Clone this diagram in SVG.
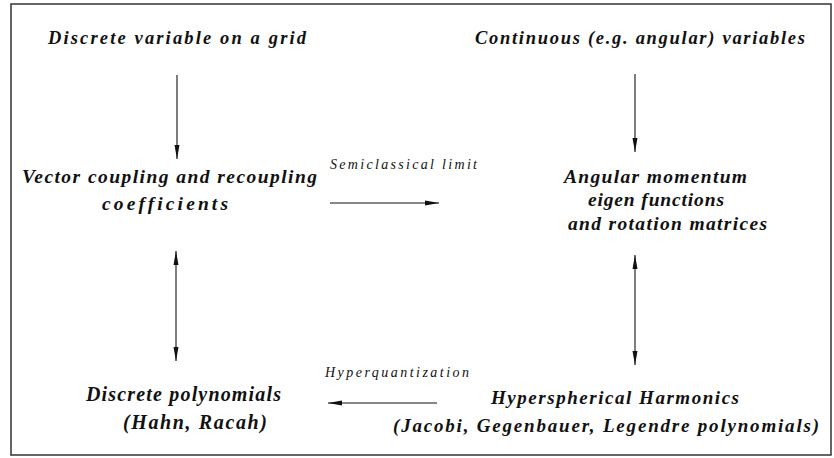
<svg xmlns="http://www.w3.org/2000/svg" width="834" height="458" viewBox="0 0 834 458">
<style>
.node{font-family:'Liberation Serif','Times New Roman','DejaVu Serif',serif;font-style:italic;font-weight:700;fill:#111}
.s17{font-size:18.5px}.s18{font-size:19px}.s19{font-size:19.5px}.s20{font-size:20px}
.lab{font-family:'Liberation Serif','Times New Roman','DejaVu Serif',serif;font-size:14px;font-style:italic;fill:#111}
.ln{stroke:#111;stroke-width:1.1;fill:none}
</style>
<defs>
<marker id="ah" markerUnits="userSpaceOnUse" markerWidth="14" markerHeight="6" refX="14" refY="3" orient="auto-start-reverse">
<path d="M0,0.5 L14,3 L0,5.5 z" fill="#111"/>
</marker>
</defs>
<rect x="11" y="4" width="820" height="451" fill="#fff" stroke="#333" stroke-width="1.5"/>
<g id="n-discrete-grid"><text class="node s17" x="48" y="44" textLength="258" lengthAdjust="spacing">Discrete variable on a grid</text></g>
<g id="n-continuous"><text class="node s17" x="475" y="44" textLength="330" lengthAdjust="spacing">Continuous (e.g. angular) variables</text></g>
<g id="n-vector"><text class="node s19" x="22" y="183" textLength="295" lengthAdjust="spacing">Vector coupling and recoupling</text><text class="node s19" x="102" y="210" textLength="126" lengthAdjust="spacing">coefficients</text></g>
<g id="n-angular"><text class="node s19" x="564" y="183" textLength="183" lengthAdjust="spacing">Angular momentum</text><text class="node s19" x="588" y="206" textLength="136" lengthAdjust="spacing">eigen functions</text><text class="node s19" x="568" y="230" textLength="199" lengthAdjust="spacing">and rotation matrices</text></g>
<g id="n-discrete-poly"><text class="node s20" x="86" y="401" textLength="195" lengthAdjust="spacing">Discrete polynomials</text><text class="node s20" x="123" y="429" textLength="144" lengthAdjust="spacing">(Hahn, Racah)</text></g>
<g id="n-hyperspherical"><text class="node s18" x="491" y="404" textLength="248" lengthAdjust="spacing">Hyperspherical Harmonics</text><text class="node s18" x="393" y="432" textLength="426" lengthAdjust="spacing">(Jacobi, Gegenbauer, Legendre polynomials)</text></g>
<g id="connectors">
<line class="ln" x1="177" y1="75" x2="177" y2="159" marker-end="url(#ah)"/>
<line class="ln" x1="635" y1="74" x2="635" y2="152" marker-end="url(#ah)"/>
<line class="ln" x1="330" y1="203" x2="439" y2="203" marker-end="url(#ah)"/>
<line class="ln" x1="176" y1="251" x2="176" y2="361" marker-start="url(#ah)" marker-end="url(#ah)"/>
<line class="ln" x1="635" y1="255" x2="635" y2="365" marker-start="url(#ah)" marker-end="url(#ah)"/>
<line class="ln" x1="437" y1="403" x2="328" y2="403" marker-end="url(#ah)"/>
<text class="lab" x="330" y="169" textLength="147" lengthAdjust="spacing">Semiclassical limit</text>
<text class="lab" x="325" y="377" textLength="144" lengthAdjust="spacing">Hyperquantization</text>
</g>
</svg>
